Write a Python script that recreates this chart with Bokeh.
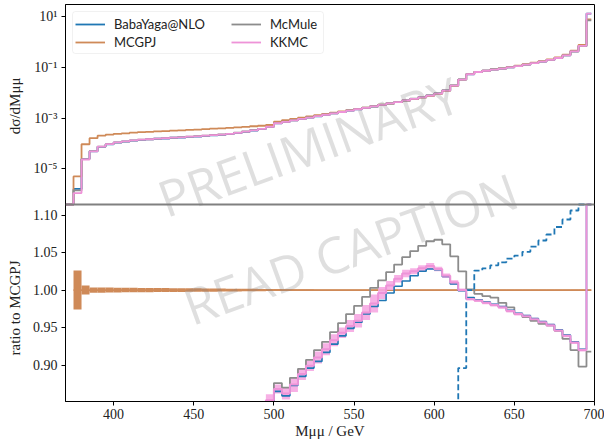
import numpy as np
from bokeh.plotting import figure
from bokeh.models import (Range1d, FixedTicker, Label, Span, Legend, LegendItem,
                          PrintfTickFormatter, BoxAnnotation, LogScale, Title)
from bokeh.embed import file_html
from bokeh.resources import INLINE

# ---------------- data ----------------
bin_edges = list(range(375, 700, 5)) + [698]          # 65 bins

mcgpj_log10 = [
    -5.30, -4.03, -3.79, -3.69, -3.65, -3.62, -3.60, -3.57, -3.55, -3.54,
    -3.52, -3.51, -3.49, -3.48, -3.46, -3.45, -3.43, -3.41, -3.40, -3.38,
    -3.36, -3.34, -3.32, -3.30, -3.27, -3.14, -3.08, -3.03, -2.98, -2.93,
    -2.88, -2.83, -2.78, -2.73, -2.68, -2.63, -2.58, -2.53, -2.47, -2.42,
    -2.37, -2.31, -2.25, -2.19, -2.12, -2.04, -1.92, -1.72, -1.48, -1.26,
    -1.17, -1.12, -1.07, -1.03, -0.98, -0.93, -0.87, -0.81, -0.75, -0.68,
    -0.60, -0.49, -0.33, -0.11, 0.90]

mcgpj_err = [
    0.026, 0.006, 0.0035, 0.0035, 0.0033, 0.0032, 0.0030, 0.0030, 0.0029, 0.0028,
    0.0027, 0.0026, 0.0025, 0.0025, 0.0024, 0.0023, 0.0022, 0.0021, 0.0020, 0.0019,
    0.0018, 0.0017, 0.0016, 0.0015, 0.0014, 0.0013, 0.0012, 0.0011, 0.0010, 0.0010,
    0.0008, 0.0008, 0.0008, 0.0008, 0.0008, 0.0008, 0.0008, 0.0008, 0.0008, 0.0008,
    0.0008, 0.0008, 0.0008, 0.0008, 0.0008, 0.0008, 0.0008, 0.0008, 0.0008, 0.0008,
    0.0008, 0.0008, 0.0008, 0.0008, 0.0008, 0.0008, 0.0008, 0.0008, 0.0008, 0.0008,
    0.0008, 0.0008, 0.0008, 0.0008, 0.0008]

ratio_kkmc = [
    0.22, 0.25, 0.30, 0.37, 0.42, 0.46, 0.48, 0.49, 0.50, 0.51,
    0.52, 0.52, 0.53, 0.53, 0.54, 0.54, 0.55, 0.55, 0.56, 0.57,
    0.60, 0.64, 0.69, 0.75, 0.853, 0.868, 0.862, 0.874, 0.888, 0.899,
    0.910, 0.921, 0.933, 0.943, 0.952, 0.959, 0.970, 0.982, 0.996, 1.006,
    1.015, 1.022, 1.025, 1.029, 1.032, 1.028, 1.019, 1.010, 1.000, 0.988,
    0.986, 0.983, 0.980, 0.977, 0.972, 0.968, 0.965, 0.961, 0.957, 0.953,
    0.946, 0.939, 0.930, 0.920, 1.70]

kkmc_err = [
    0.010, 0.010, 0.010, 0.010, 0.010, 0.010, 0.010, 0.010, 0.010, 0.010,
    0.010, 0.010, 0.010, 0.010, 0.010, 0.010, 0.010, 0.010, 0.010, 0.010,
    0.010, 0.010, 0.010, 0.010, 0.008, 0.006, 0.008, 0.010, 0.008, 0.007,
    0.008, 0.008, 0.008, 0.007, 0.008, 0.009, 0.010, 0.012, 0.008, 0.006,
    0.005, 0.005, 0.004, 0.004, 0.004, 0.003, 0.003, 0.003, 0.002, 0.002,
    0.002, 0.002, 0.002, 0.002, 0.002, 0.002, 0.002, 0.002, 0.002, 0.002,
    0.002, 0.002, 0.002, 0.002, 0.002]

ratio_babayaga = [
    0.32, 0.26, 0.30, 0.36, 0.41, 0.45, 0.47, 0.48, 0.49, 0.50,
    0.51, 0.51, 0.52, 0.52, 0.53, 0.53, 0.54, 0.54, 0.55, 0.56,
    0.59, 0.63, 0.68, 0.74, 0.845, 0.865, 0.859, 0.873, 0.885, 0.896,
    0.905, 0.917, 0.928, 0.939, 0.949, 0.957, 0.968, 0.978, 0.986, 0.996,
    1.005, 1.012, 1.019, 1.025, 1.028, 1.027, 1.018, 1.008, 0.999, 0.990,
    0.987, 0.984, 0.981, 0.978, 0.973, 0.969, 0.966, 0.962, 0.958, 0.954,
    0.947, 0.940, 0.931, 0.921, 1.70]

ratio_mcmule = [
    0.28, 0.26, 0.31, 0.37, 0.42, 0.46, 0.48, 0.49, 0.50, 0.51,
    0.52, 0.53, 0.53, 0.54, 0.54, 0.55, 0.55, 0.56, 0.57, 0.58,
    0.61, 0.65, 0.70, 0.76, 0.840, 0.876, 0.870, 0.883, 0.895, 0.907,
    0.920, 0.931, 0.944, 0.956, 0.968, 0.979, 0.991, 1.003, 1.013, 1.024,
    1.034, 1.044, 1.052, 1.059, 1.065, 1.067, 1.061, 1.045, 1.025, 1.001,
    0.995, 0.992, 0.990, 0.983, 0.977, 0.968, 0.964, 0.959, 0.955, 0.953,
    0.946, 0.935, 0.920, 0.898, 0.918]

ratio_babayaga_alt = [
    0.0, 0.0, 0.0, 0.0, 0.0, 0.0, 0.0, 0.0, 0.0, 0.0,
    0.0, 0.0, 0.0, 0.0, 0.0, 0.0, 0.0, 0.0, 0.0, 0.0,
    0.0, 0.0, 0.0, 0.0, 0.0, 0.0, 0.0, 0.0, 0.0, 0.0,
    0.0, 0.0, 0.0, 0.0, 0.0, 0.0, 0.0, 0.0, 0.0, 0.0,
    0.0, 0.0, 0.0, 0.0, 0.0, 0.0, 0.0, 0.0, 0.896, 1.000,
    1.026, 1.029, 1.033, 1.037, 1.042, 1.046, 1.051, 1.058, 1.066, 1.074,
    1.084, 1.094, 1.106, 1.130, 1.200]

x_ticks = [400, 450, 500, 550, 600, 650, 700]
top_tick_exponents = [1, -1, -3, -5]
top_tick_labels = ["10¹", "10⁻¹", "10⁻³", "10⁻⁵"]
ratio_ticks = [0.90, 0.95, 1.00, 1.05, 1.10]

# ---------------- style / geometry ----------------
C_BY = "#1f77b4"
C_MCGPJ = "#cf8a58"
C_MM = "#8c8c8c"
C_KK = "#ee93d8"
C_KK_BAND = "#f6a9e2"
SERIF = "Liberation Serif"

X0, X1 = 370, 700
LT, LB = 1.49, -6.41          # log10 limits of the upper panel
RT, RB = 1.114, 0.8515        # limits of the ratio panel
FRAME_LEFT, FRAME_W = 65, 529
FRAME_TOP, TOP_H, BOT_H = 4, 200, 197
FRAME_H = TOP_H + BOT_H
SPLIT = FRAME_TOP + TOP_H

lin_end = RT + (RT - RB) * TOP_H / BOT_H
log_start = LB - (LT - LB) * BOT_H / TOP_H

edges = np.array(bin_edges, dtype=float)
mcgpj = 10.0 ** np.array(mcgpj_log10)


def stairs(v):
    v = list(v)
    return v + [v[-1]]


def px_x(sx):
    return X0 + (sx - FRAME_LEFT) / FRAME_W * (X1 - X0)


def px_lin(sy):
    return RT - (sy - SPLIT) / BOT_H * (RT - RB)


def log_to_lin(exponent):
    sy = FRAME_TOP + (LT - exponent) / (LT - LB) * TOP_H
    return float(px_lin(sy))


p = figure(frame_width=FRAME_W, frame_height=FRAME_H,
           x_range=Range1d(X0, X1), y_range=Range1d(RB, lin_end),
           extra_y_ranges={"top": Range1d(10 ** log_start, 10 ** LT)},
           extra_y_scales={"top": LogScale()},
           output_backend="svg", toolbar_location=None,
           min_border_left=FRAME_LEFT, min_border_right=10,
           min_border_top=FRAME_TOP, min_border_bottom=0,
           outline_line_color="black", outline_line_width=1)
p.grid.visible = False


def style_axis(ax):
    ax.major_tick_out = 4
    ax.major_tick_in = 0
    ax.minor_tick_out = 0
    ax.minor_tick_in = 0
    ax.major_label_text_font = SERIF
    ax.major_label_text_font_size = "14px"
    ax.major_label_text_color = "#222222"
    ax.axis_label_text_font = SERIF
    ax.axis_label_text_font_size = "15px"
    ax.axis_label_text_font_style = "normal"
    ax.axis_label_text_color = "#222222"
    ax.axis_line_color = "black"
    ax.major_tick_line_color = "black"
    ax.major_label_standoff = 4


# one left axis carrying the ticks of both panels
log_positions = [log_to_lin(e) for e in top_tick_exponents]
yax = p.yaxis[0]
yax.ticker = FixedTicker(ticks=ratio_ticks + log_positions, minor_ticks=[])
yax.formatter = PrintfTickFormatter(format="%.2f")
yax.major_label_overrides = {pos: lab for pos, lab in zip(log_positions, top_tick_labels)}
style_axis(yax)
yax.axis_label = " "
yax.axis_label_text_font_size = "8px"
yax.axis_label_standoff = 3

p.xaxis.ticker = FixedTicker(ticks=x_ticks, minor_ticks=[])
p.xaxis.axis_label = "Mμμ / GeV"
style_axis(p.xaxis[0])
p.xaxis.major_label_standoff = 3
p.xaxis.axis_label_standoff = 1

# axis titles of both panels (zero-width side titles)
p.add_layout(Title(text="ratio to MCGPJ", align="left", vertical_align="middle",
                   offset=46, standoff=-19, text_font=SERIF, text_font_size="15px",
                   text_font_style="normal", text_color="#222222"), "left")
p.add_layout(Title(text="dσ/dMμμ", align="right", vertical_align="middle",
                   offset=73, standoff=-19, text_font=SERIF, text_font_size="15px",
                   text_font_style="normal", text_color="#222222"), "left")

# ---------------- upper panel ----------------
top_edges = [X0] + list(edges)


def top_vals(ratio):
    v = np.concatenate([[0.0], mcgpj * np.array(ratio)])
    return stairs(np.clip(v, 10 ** LB, None))


r_by = p.step(top_edges, top_vals(ratio_babayaga), mode="after", y_range_name="top",
              line_color=C_BY, line_width=1.8)
r_mc = p.step(top_edges, top_vals(np.ones(len(mcgpj))), mode="after", y_range_name="top",
              line_color=C_MCGPJ, line_width=1.8)
r_mm = p.step(top_edges, top_vals(ratio_mcmule), mode="after", y_range_name="top",
              line_color=C_MM, line_width=1.8)
r_kk = p.step(top_edges, top_vals(ratio_kkmc), mode="after", y_range_name="top",
              line_color=C_KK, line_width=1.8)

# ---------------- ratio panel ----------------
left, right = edges[:-1], edges[1:]
one = np.ones(len(mcgpj))
me = np.array(mcgpj_err)
p.quad(left=left, right=right, bottom=one - me, top=one + me,
       fill_color=C_MCGPJ, line_color=None)
p.step(edges, stairs(one), mode="after", line_color=C_MCGPJ, line_width=1.8)

kc = np.array(ratio_kkmc)
ke = np.array(kkmc_err)
p.quad(left=left, right=right, bottom=np.clip(kc - ke, None, RT), top=np.clip(kc + ke, None, RT),
       fill_color=C_KK_BAND, fill_alpha=0.9, line_color=None)


def low_vals(ratio):
    return stairs(np.clip(np.array(ratio), None, RT))


p.step(edges, low_vals(ratio_mcmule), mode="after", line_color=C_MM, line_width=1.8)
p.step(edges, low_vals(ratio_babayaga), mode="after", line_color=C_BY, line_width=1.6)
p.step(edges, low_vals(ratio_babayaga_alt), mode="after", line_color=C_BY,
       line_width=1.8, line_dash="6 3")
p.step(edges, low_vals(ratio_kkmc), mode="after", line_color=C_KK, line_width=2.0)

# panel separator
p.add_layout(Span(location=RT, dimension="width", line_color="#808080", line_width=2))

# ---------------- legend ----------------
p.add_layout(BoxAnnotation(left=px_x(72), right=px_x(323),
                           top=px_lin(11), bottom=px_lin(53),
                           fill_color="white", fill_alpha=0.85,
                           line_color="#d0d0d0", line_width=1, border_radius=3))
leg_kw = dict(glyph_width=30, glyph_height=18, label_height=18, label_standoff=9,
              spacing=0, padding=2, margin=0, border_line_color=None,
              background_fill_alpha=0, label_text_font="Lato",
              label_text_font_size="13px", label_text_color="#222222")
leg_bottom = FRAME_H - 7 - 40
p.add_layout(Legend(items=[LegendItem(label="BabaYaga@NLO", renderers=[r_by]),
                           LegendItem(label="MCGPJ", renderers=[r_mc])],
                    location=(10, leg_bottom), **leg_kw))
p.add_layout(Legend(items=[LegendItem(label="McMule", renderers=[r_mm]),
                           LegendItem(label="KKMC", renderers=[r_kk])],
                    location=(166, leg_bottom), **leg_kw))

# ---------------- watermarks ----------------
for text, sx, sy in (("PRELIMINARY", 308, 146), ("READ CAPTION", 350, 248)):
    p.add_layout(Label(x=px_x(sx), y=px_lin(sy), text=text,
                       angle=20, angle_units="deg",
                       text_align="center", text_baseline="middle",
                       text_font="Open Sans", text_font_size="50px",
                       text_color="#808080", text_alpha=0.25))

open("out.html", "w").write(file_html(p, INLINE))
